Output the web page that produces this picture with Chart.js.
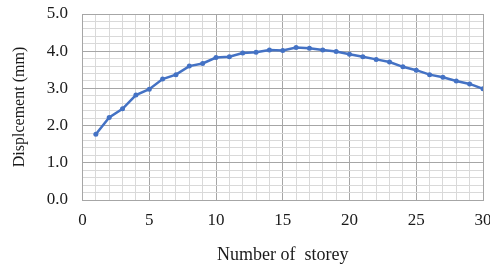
<!DOCTYPE html>
<html lang="en">
<head>
<meta charset="UTF-8" />
<title>Displacement vs storey</title>
<style>
  html, body { margin: 0; padding: 0; background: #fff; }
  #wrap { position: relative; width: 490px; height: 267px; }
</style>
</head>
<body>
<div id="wrap"><canvas id="chart"></canvas></div>
<script src="https://cdn.jsdelivr.net/npm/chart.js@4.4.0/dist/chart.umd.min.js"></script>
<script>
  // storey number (x) and displacement in mm (y)
  const storeys = [1, 2, 3, 4, 5, 6, 7, 8, 9, 10, 11, 12, 13, 14, 15,
                   16, 17, 18, 19, 20, 21, 22, 23, 24, 25, 26, 27, 28, 29, 30];
  const displacement = [1.77, 2.22, 2.45, 2.82, 2.98, 3.25, 3.37, 3.60, 3.67, 3.83,
                        3.85, 3.95, 3.97, 4.03, 4.02, 4.10, 4.08, 4.03, 3.99, 3.92,
                        3.85, 3.78, 3.71, 3.58, 3.49, 3.37, 3.30, 3.20, 3.12, 2.99];
  const xTickLabels = ['0', '5', '10', '15', '20', '25', '30'];
  const yTickLabels = ['0.0', '1.0', '2.0', '3.0', '4.0', '5.0'];

  const serif = 'Liberation Serif, Times New Roman, serif';
  const minorGrid = '#d9d9d9';
  const majorGrid = '#a6a6a6';

  const isWhole = (v) => Math.abs(v - Math.round(v)) < 1e-6;

  new Chart(document.getElementById('chart'), {
    type: 'line',
    data: {
      datasets: [{
        data: storeys.map((s, i) => ({ x: s, y: displacement[i] })),
        borderColor: '#4472c4',
        backgroundColor: '#4472c4',
        borderWidth: 2.5,
        pointRadius: 2.5,
        pointBorderWidth: 0,
        tension: 0
      }]
    },
    options: {
      responsive: true,
      maintainAspectRatio: false,
      animation: false,
      layout: { padding: { top: 14, right: 7, left: 0, bottom: 0 } },
      plugins: { legend: { display: false }, tooltip: { enabled: false } },
      scales: {
        x: {
          type: 'linear',
          min: 0,
          max: 30,
          afterFit: (s) => { s.height = 67; s.paddingRight = 0; s.paddingLeft = 0; },
          ticks: {
            stepSize: 1,
            autoSkip: false,
            maxRotation: 0,
            padding: 10,
            color: '#1a1a1a',
            font: { family: serif, size: 17 },
            callback: (v) => (v % 5 === 0 ? xTickLabels[v / 5] : '')
          },
          grid: {
            drawTicks: false,
            lineWidth: 1,
            color: (c) => (c.tick && c.tick.value % 5 === 0 ? majorGrid : minorGrid)
          },
          border: { color: majorGrid },
          title: {
            display: true,
            text: 'Number of  storey',
            color: '#1a1a1a',
            font: { family: serif, size: 18 },
            padding: { top: 0, bottom: 1 }
          }
        },
        y: {
          min: 0,
          max: 5,
          afterFit: (s) => { s.width = 82.5; s.paddingTop = 0; s.paddingBottom = 0; },
          ticks: {
            stepSize: 0.2,
            autoSkip: false,
            padding: 14.5,
            color: '#1a1a1a',
            font: { family: serif, size: 17 },
            callback: (v) => (isWhole(v) ? yTickLabels[Math.round(v)] : '')
          },
          grid: {
            drawTicks: false,
            lineWidth: 1,
            color: (c) => (c.tick && isWhole(c.tick.value) ? majorGrid : minorGrid)
          },
          border: { color: majorGrid },
          title: {
            display: true,
            text: 'Displcement (mm)',
            color: '#1a1a1a',
            font: { family: serif, size: 16 },
            padding: { top: 10.5, bottom: 0 }
          }
        }
      }
    }
  });
</script>
</body>
</html>
